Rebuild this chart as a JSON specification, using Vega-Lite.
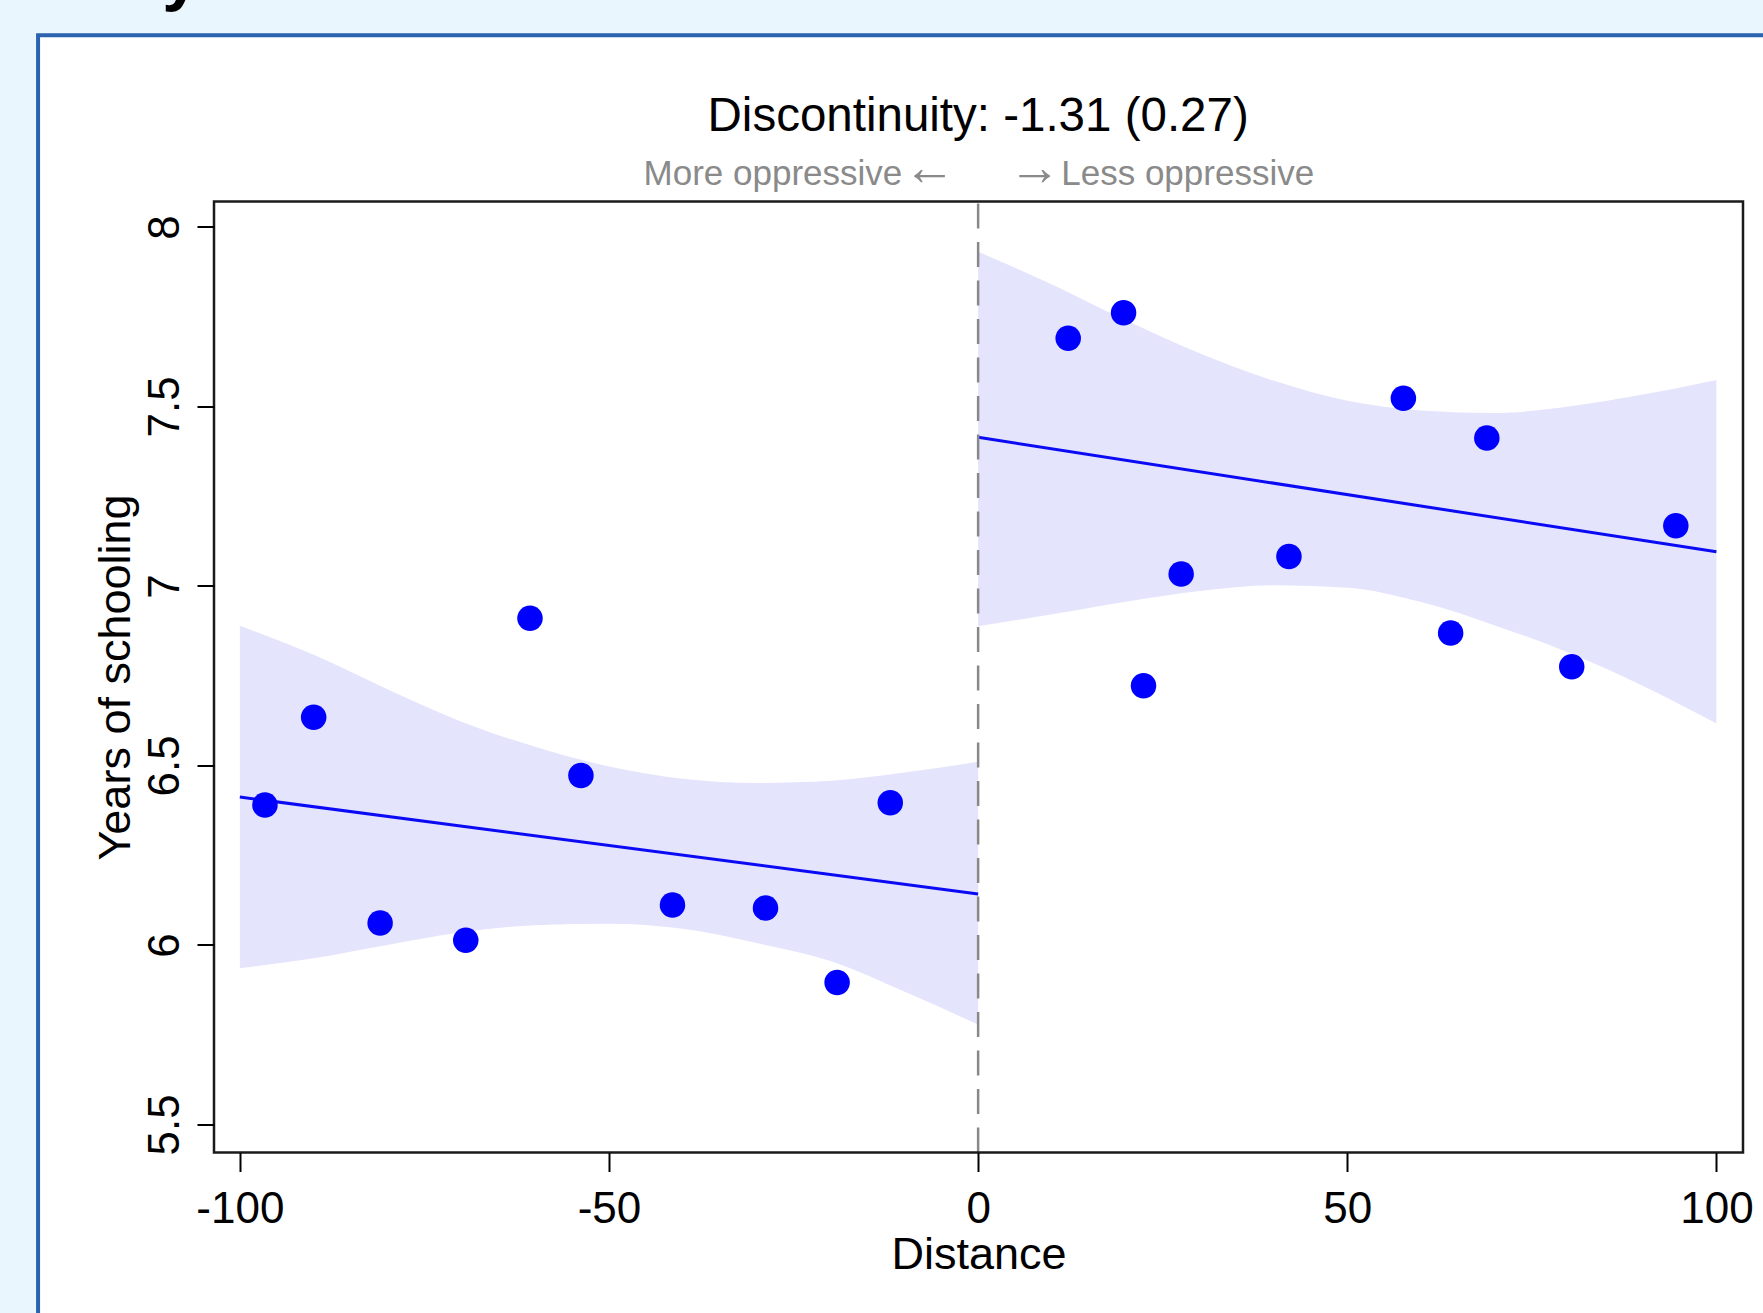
{
  "$schema": "https://vega.github.io/schema/vega-lite/v6.json",
  "width": 1529,
  "height": 951,
  "autosize": {"type": "none"},
  "padding": {"left": 214, "top": 201.5, "right": 20, "bottom": 160.5},
  "background": "#EAF6FD",
  "config": {
    "font": "Liberation Sans",
    "view": {"stroke": null, "fill": "white"},
    "axis": {
      "domain": false,
      "grid": false,
      "tickColor": "black",
      "tickWidth": 2,
      "labelColor": "black",
      "labelFont": "Liberation Sans",
      "labelFontSize": 44,
      "titleFont": "Liberation Sans",
      "titleFontSize": 45,
      "titleFontWeight": "normal",
      "titleColor": "black"
    },
    "axisX": {"tickSize": 19, "labelPadding": 16, "titlePadding": 1},
    "axisY": {"tickSize": 17, "labelAngle": -90, "labelAlign": "center", "labelBaseline": "alphabetic", "labelPadding": 18.7, "titlePadding": 5}
  },
  "datasets": {
    "points": [
      {"distance": -96.6, "schooling": 6.39},
      {"distance": -90.0, "schooling": 6.634},
      {"distance": -81.0, "schooling": 6.061},
      {"distance": -69.4, "schooling": 6.013},
      {"distance": -60.7, "schooling": 6.91},
      {"distance": -53.8, "schooling": 6.472},
      {"distance": -41.4, "schooling": 6.111},
      {"distance": -28.8, "schooling": 6.103},
      {"distance": -19.1, "schooling": 5.895},
      {"distance": -11.9, "schooling": 6.396},
      {"distance": 12.2, "schooling": 7.69},
      {"distance": 19.7, "schooling": 7.761},
      {"distance": 22.4, "schooling": 6.722},
      {"distance": 27.5, "schooling": 7.033},
      {"distance": 42.1, "schooling": 7.082},
      {"distance": 57.6, "schooling": 7.523},
      {"distance": 64.0, "schooling": 6.869},
      {"distance": 68.9, "schooling": 7.412},
      {"distance": 80.4, "schooling": 6.775},
      {"distance": 94.5, "schooling": 7.168}
    ],
    "band": [
      {"side": "left", "distance": -100, "hi": 6.889, "lo": 5.935},
      {"side": "left", "distance": -90, "hi": 6.808, "lo": 5.963},
      {"side": "left", "distance": -80, "hi": 6.712, "lo": 6.0},
      {"side": "left", "distance": -70, "hi": 6.622, "lo": 6.035},
      {"side": "left", "distance": -60, "hi": 6.552, "lo": 6.055},
      {"side": "left", "distance": -50, "hi": 6.497, "lo": 6.059},
      {"side": "left", "distance": -40, "hi": 6.463, "lo": 6.045},
      {"side": "left", "distance": -30, "hi": 6.451, "lo": 6.005},
      {"side": "left", "distance": -20, "hi": 6.457, "lo": 5.955},
      {"side": "left", "distance": -10, "hi": 6.48, "lo": 5.87},
      {"side": "left", "distance": 0, "hi": 6.51, "lo": 5.778},
      {"side": "right", "distance": 0, "hi": 7.931, "lo": 6.888},
      {"side": "right", "distance": 10, "hi": 7.84, "lo": 6.921},
      {"side": "right", "distance": 20, "hi": 7.74, "lo": 6.956},
      {"side": "right", "distance": 30, "hi": 7.648, "lo": 6.986},
      {"side": "right", "distance": 40, "hi": 7.572, "lo": 7.002},
      {"side": "right", "distance": 50, "hi": 7.516, "lo": 6.995},
      {"side": "right", "distance": 60, "hi": 7.489, "lo": 6.955},
      {"side": "right", "distance": 70, "hi": 7.482, "lo": 6.89},
      {"side": "right", "distance": 80, "hi": 7.5, "lo": 6.814},
      {"side": "right", "distance": 90, "hi": 7.533, "lo": 6.722},
      {"side": "right", "distance": 100, "hi": 7.574, "lo": 6.617}
    ],
    "fit": [
      {"side": "left", "distance": -100, "fit": 6.412},
      {"side": "left", "distance": 0, "fit": 6.142},
      {"side": "right", "distance": 0, "fit": 7.414},
      {"side": "right", "distance": 100, "fit": 7.095}
    ],
    "labels": [
      {"label": "Discontinuity: -1.31 (0.27)", "kind": "title"},
      {"label": "More oppressive", "kind": "sub_left"},
      {"label": "←", "kind": "arrow_left"},
      {"label": "→", "kind": "arrow_right"},
      {"label": "Less oppressive", "kind": "sub_right"}
    ]
  },
  "layer": [
    {
      "data": {"values": [{}]},
      "mark": {"type": "rect", "fill": "white", "stroke": "#2B63AF", "strokeWidth": 4, "clip": false},
      "encoding": {
        "x": {"datum": -127.33, "type": "quantitative", "scale": {"domain": [-103.5, 103.6], "nice": false, "zero": false}},
        "x2": {"datum": 112},
        "y": {"datum": 8.534, "type": "quantitative", "scale": {"domain": [5.4217, 8.071], "nice": false, "zero": false}},
        "y2": {"datum": 4.9}
      }
    },
    {
      "data": {"values": [{}]},
      "mark": {"type": "text", "text": "y", "fontSize": 68, "fontWeight": "bold", "color": "black", "align": "left", "baseline": "alphabetic", "clip": false},
      "encoding": {
        "x": {"datum": -110.5, "type": "quantitative"},
        "y": {"datum": 8.638, "type": "quantitative"}
      }
    },
    {
      "data": {"name": "labels"},
      "transform": [{"filter": "datum.kind === 'title'"}],
      "mark": {"type": "text", "fontSize": 47.5, "color": "black", "align": "center", "baseline": "alphabetic", "clip": false},
      "encoding": {
        "x": {"datum": 0, "type": "quantitative"},
        "y": {"datum": 8.2674, "type": "quantitative"},
        "text": {"field": "label"}
      }
    },
    {
      "data": {"name": "labels"},
      "transform": [{"filter": "datum.kind === 'sub_left'"}],
      "mark": {"type": "text", "fontSize": 35, "color": "#8a8a8a", "align": "right", "baseline": "alphabetic", "dx": -75.8, "clip": false},
      "encoding": {
        "x": {"datum": 0, "type": "quantitative"},
        "y": {"datum": 8.117, "type": "quantitative"},
        "text": {"field": "label"}
      }
    },
    {
      "data": {"name": "labels"},
      "transform": [{"filter": "datum.kind === 'arrow_left'"}],
      "mark": {"type": "text", "fontSize": 52, "color": "#8a8a8a", "align": "center", "baseline": "alphabetic", "dx": -49, "clip": false},
      "encoding": {
        "x": {"datum": 0, "type": "quantitative"},
        "y": {"datum": 8.117, "type": "quantitative"},
        "text": {"field": "label"}
      }
    },
    {
      "data": {"name": "labels"},
      "transform": [{"filter": "datum.kind === 'arrow_right'"}],
      "mark": {"type": "text", "fontSize": 52, "color": "#8a8a8a", "align": "center", "baseline": "alphabetic", "dx": 56.3, "clip": false},
      "encoding": {
        "x": {"datum": 0, "type": "quantitative"},
        "y": {"datum": 8.117, "type": "quantitative"},
        "text": {"field": "label"}
      }
    },
    {
      "data": {"name": "labels"},
      "transform": [{"filter": "datum.kind === 'sub_right'"}],
      "mark": {"type": "text", "fontSize": 35, "color": "#8a8a8a", "align": "left", "baseline": "alphabetic", "dx": 83.1, "clip": false},
      "encoding": {
        "x": {"datum": 0, "type": "quantitative"},
        "y": {"datum": 8.117, "type": "quantitative"},
        "text": {"field": "label"}
      }
    },
    {
      "data": {"name": "band"},
      "mark": {"type": "area", "color": "#E4E4FC", "opacity": 1, "interpolate": "monotone"},
      "encoding": {
        "x": {"field": "distance", "type": "quantitative", "title": "Distance",
              "axis": {"values": [-100, -50, 0, 50, 100], "labelExpr": "'' + datum.value", "zindex": 1}},
        "y": {"field": "hi", "type": "quantitative", "title": "Years of schooling",
              "axis": {"values": [5.5, 6, 6.5, 7, 7.5, 8], "labelExpr": "'' + datum.value", "zindex": 1}},
        "y2": {"field": "lo"},
        "detail": {"field": "side"}
      }
    },
    {
      "data": {"name": "fit"},
      "mark": {"type": "line", "color": "#0A0AF5", "strokeWidth": 3},
      "encoding": {
        "x": {"field": "distance", "type": "quantitative", "title": "Distance", "axis": {"zindex": 1}},
        "y": {"field": "fit", "type": "quantitative", "title": "Years of schooling", "axis": {"zindex": 1}},
        "detail": {"field": "side"}
      }
    },
    {
      "data": {"values": [{}]},
      "mark": {"type": "rule", "color": "#888888", "strokeWidth": 2.5, "strokeDash": [25, 13.5]},
      "encoding": {
        "x": {"datum": 0, "type": "quantitative"},
        "y": {"datum": 5.4217, "type": "quantitative"},
        "y2": {"datum": 8.071}
      }
    },
    {
      "data": {"name": "points"},
      "mark": {"type": "circle", "color": "#0000FF", "opacity": 1, "size": 650},
      "encoding": {
        "x": {"field": "distance", "type": "quantitative", "title": "Distance", "axis": {"zindex": 1}},
        "y": {"field": "schooling", "type": "quantitative", "title": "Years of schooling", "axis": {"zindex": 1}}
      }
    },
    {
      "data": {"values": [{}]},
      "mark": {"type": "rect", "fillOpacity": 0, "stroke": "#1a1a1a", "strokeWidth": 2.5, "clip": false},
      "encoding": {
        "x": {"datum": -103.5, "type": "quantitative"},
        "x2": {"datum": 103.6},
        "y": {"datum": 8.071, "type": "quantitative"},
        "y2": {"datum": 5.4217}
      }
    }
  ]
}
